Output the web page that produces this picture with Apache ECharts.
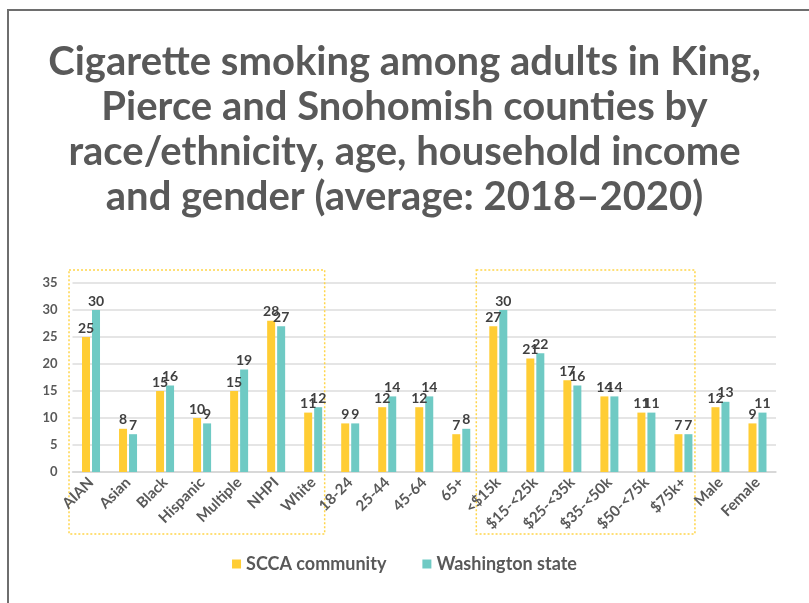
<!DOCTYPE html>
<html>
<head>
<meta charset="utf-8">
<script src="https://cdn.jsdelivr.net/npm/echarts@6/dist/echarts.min.js"></script>
<style>
  html, body { margin: 0; padding: 0; background: #fff; }
  #main { width: 809px; height: 603px; }
</style>
</head>
<body>
<div id="main"></div>
<script>
// categories
const categories = [
  'AIAN', 'Asian', 'Black', 'Hispanic', 'Multiple', 'NHPI', 'White',
  '18-24', '25-44', '45-64', '65+',
  '<$15k', '$15-<25k', '$25-<35k', '$35-<50k', '$50-<75k', '$75k+',
  'Male', 'Female'
];

// smoking percentages
const sccaCommunity = [25, 8, 15, 10, 15, 28, 11, 9, 12, 12, 7, 27, 21, 17, 14, 11, 7, 12, 9];
const washingtonState = [30, 7, 16, 9, 19, 27, 12, 9, 14, 14, 8, 30, 22, 16, 14, 11, 7, 13, 11];

// dotted boxes go round these groups
const boxedGroups = [['AIAN', 'White'], ['<$15k', '$75k+']];

const yTicks = [0, 5, 10, 15, 20, 25, 30, 35];

const textColor = '#595959';
const fontName = 'Lato';

const myChart = echarts.init(document.getElementById('main'));

const labelStyle = {
  show: true,
  position: 'top',
  distance: 2,
  color: '#404040',
  fontFamily: fontName,
  fontWeight: 'bold',
  fontSize: 14
};

const options = {
  animation: false,
  backgroundColor: '#fff',
  title: {
    text: 'Cigarette smoking among adults in King,\nPierce and Snohomish counties by\nrace/ethnicity, age, household income\nand gender (average: 2018\u20132020)',
    left: 'center',
    top: 35,
    textStyle: {
      color: textColor,
      fontFamily: fontName,
      fontWeight: 'bold',
      fontSize: 40,
      lineHeight: 45
    }
  },
  legend: {
    bottom: 25,
    left: 'center',
    itemWidth: 9,
    itemHeight: 9,
    itemGap: 36,
    icon: 'rect',
    textStyle: {
      color: textColor,
      fontFamily: fontName,
      fontWeight: 'bold',
      fontSize: 18
    }
  },
  grid: {
    left: 72.5,
    right: 33,
    top: 283,
    bottom: 131
  },
  xAxis: {
    type: 'category',
    data: categories,
    axisTick: { show: false },
    axisLine: { lineStyle: { color: '#d4d4d4', width: 1.5 } },
    axisLabel: {
      rotate: 45,
      interval: 0,
      margin: 8,
      color: textColor,
      fontFamily: fontName,
      fontWeight: 'bold',
      fontSize: 15
    }
  },
  yAxis: {
    type: 'value',
    min: yTicks[0],
    max: yTicks[yTicks.length - 1],
    interval: 5,
    axisLine: { show: false },
    axisTick: { show: false },
    splitLine: { lineStyle: { color: '#dcdcdc', width: 1.5 } },
    axisLabel: {
      margin: 15,
      color: textColor,
      fontFamily: fontName,
      fontWeight: 'bold',
      fontSize: 13
    }
  },
  series: [
    {
      name: 'SCCA community',
      type: 'bar',
      data: sccaCommunity,
      barWidth: 8,
      barGap: '25%',
      itemStyle: { color: '#FFCD34' },
      label: labelStyle
    },
    {
      name: 'Washington state',
      type: 'bar',
      data: washingtonState,
      barWidth: 8,
      itemStyle: { color: '#6FCAC4' },
      label: labelStyle
    }
  ]
};

myChart.setOption(options);

// outer frame and the dotted boxes, placed from the category axis
const boxes = boxedGroups.map(([first, last]) => {
  const x1 = myChart.convertToPixel({ xAxisIndex: 0 }, first) - 22;
  const x2 = myChart.convertToPixel({ xAxisIndex: 0 }, last) + 11.5;
  return {
    type: 'rect',
    silent: true,
    shape: { x: x1, y: 270, width: x2 - x1, height: 264 },
    style: { fill: 'none', stroke: '#FFD54A', lineWidth: 1.5, lineDash: [2, 2] }
  };
});

myChart.setOption({
  graphic: [
    {
      type: 'rect',
      silent: true,
      shape: { x: 8, y: 10, width: 900, height: 700 },
      style: { fill: 'none', stroke: '#6e6e6e', lineWidth: 2 }
    },
    ...boxes
  ]
});
</script>
</body>
</html>
